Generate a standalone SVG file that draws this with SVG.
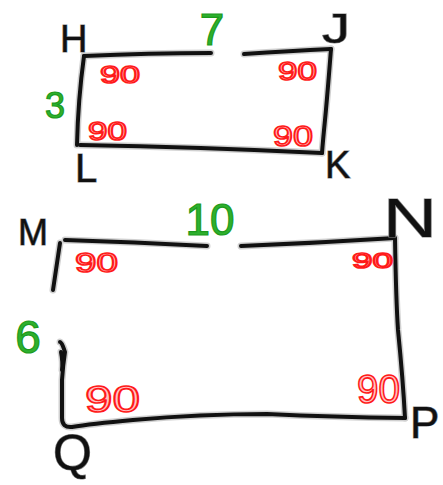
<svg xmlns="http://www.w3.org/2000/svg" width="443" height="485" viewBox="0 0 443 485">
<style>
.ink{fill:none;stroke:#111;stroke-width:4;stroke-linecap:round;stroke-linejoin:round}
.halo{fill:none;stroke:#999;stroke-width:7;stroke-linecap:round;stroke-linejoin:round;opacity:.45}
.lbl{font-family:"Liberation Sans","DejaVu Sans",sans-serif;fill:#111;stroke:#888;stroke-width:1.2;paint-order:stroke}
.len{font-family:"Liberation Sans","DejaVu Sans",sans-serif;fill:#2eb02e;stroke:#1c9a1c;stroke-width:1.2;text-anchor:middle}
.ang{font-family:"Liberation Sans","DejaVu Sans",sans-serif;fill:#ffc4c4;stroke:#ff1a1a;stroke-width:1.6}
</style>
<rect width="443" height="485" fill="#fff"/>
<defs>
<g id="rect1lines">
<path d="M84,56 Q150,53 211,53"/>
<path d="M244,54 Q290,51 331,49"/>
<path d="M331,49 Q327,100 325,120 Q323,140 322,153"/>
<path d="M322,153 Q200,147 80,145"/>
<path d="M84,56 Q78,100 77,145"/>
</g>
<g id="rect2lines">
<path d="M65,240 Q133,242 207,246"/>
<path d="M241,246 Q317,243 395,238"/>
<path d="M395,238 Q396,300 398,330 Q403,380 405,418"/>
<path d="M405,418 Q333,417 267,414 Q200,414 133,420 Q90,424 72,427 Q62,428 62,418 L62,380 Q63,365 65,352 Q62,342 60,342"/>
<path d="M61,352 Q63,362 62,370"/>
<path d="M60,243 L53,290"/>
</g>
</defs>
<g id="connectors">
<use href="#rect1lines" class="halo"/>
<use href="#rect1lines" class="ink"/>
<use href="#rect2lines" class="halo"/>
<use href="#rect2lines" class="ink"/>
</g>
<g id="node-H"><text class="lbl" x="60" y="52" font-size="38">H</text></g>
<g id="node-J"><text class="lbl" x="322" y="43" font-size="42" textLength="28" lengthAdjust="spacingAndGlyphs">J</text></g>
<g id="node-K"><text class="lbl" x="325" y="178" font-size="38">K</text></g>
<g id="node-L"><text class="lbl" x="75" y="182" font-size="40">L</text></g>
<g id="node-M"><text class="lbl" x="18" y="245" font-size="36">M</text></g>
<g id="node-N"><text class="lbl" x="383" y="237" font-size="56" textLength="54" lengthAdjust="spacingAndGlyphs">N</text></g>
<g id="node-P"><text class="lbl" x="410" y="438" font-size="44">P</text></g>
<g id="node-Q"><text class="lbl" x="53" y="470" font-size="50">Q</text></g>
<g id="lengths">
<text class="len" x="212" y="45" font-size="44">7</text>
<text class="len" x="55" y="118" font-size="36">3</text>
<text class="len" x="210" y="235" font-size="44">10</text>
<text class="len" x="28" y="353" font-size="46">6</text>
</g>
<g id="angles">
<text class="ang" x="100" y="83" font-size="24" textLength="40" lengthAdjust="spacingAndGlyphs">90</text>
<text class="ang" x="278" y="80" font-size="26" textLength="39" lengthAdjust="spacingAndGlyphs">90</text>
<text class="ang" x="88" y="140" font-size="26" textLength="39" lengthAdjust="spacingAndGlyphs">90</text>
<text class="ang" x="273" y="146" font-size="29" textLength="40" lengthAdjust="spacingAndGlyphs">90</text>
<text class="ang" x="75" y="272" font-size="27" textLength="43" lengthAdjust="spacingAndGlyphs">90</text>
<text class="ang" x="352" y="268" font-size="22" textLength="41" lengthAdjust="spacingAndGlyphs">90</text>
<text class="ang" x="85" y="412" font-size="36" textLength="55" lengthAdjust="spacingAndGlyphs">90</text>
<text class="ang" x="357" y="403" font-size="40" textLength="43" lengthAdjust="spacingAndGlyphs">90</text>
</g>
</svg>
